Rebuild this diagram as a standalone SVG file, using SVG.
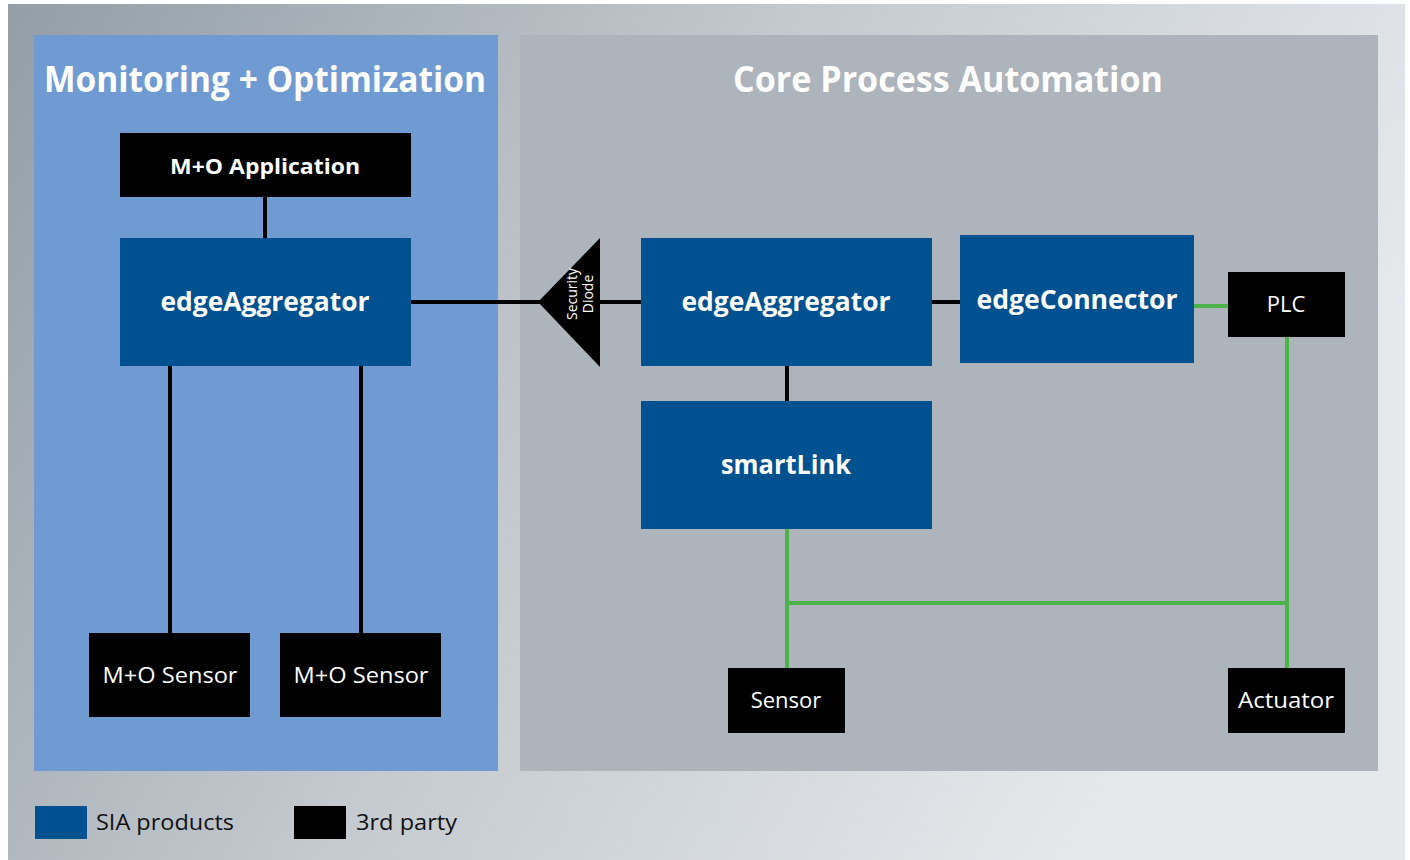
<svg xmlns="http://www.w3.org/2000/svg" width="1410" height="860" viewBox="0 0 1410 860">
<defs>
<linearGradient id="bg" x1="0" y1="0" x2="1" y2="0.35">
<stop offset="0" stop-color="#939ea7"/>
<stop offset="0.5" stop-color="#c3c9ce"/>
<stop offset="1" stop-color="#e6e9ec"/>
</linearGradient>
<style>
.sia{fill:#00518f}
.tp{fill:#000}
.bt{font-family:"Open Sans","Liberation Sans",sans-serif;font-weight:bold;fill:#fff;text-anchor:middle}
.rt{font-family:"Open Sans","Liberation Sans",sans-serif;fill:#fff;text-anchor:middle}
.lt{font-family:"Open Sans","Liberation Sans",sans-serif;fill:#111;font-size:22px}
.blk{stroke:#000;stroke-width:4;fill:none}
.grn{stroke:#4cb34a;stroke-width:4;fill:none}
</style>
</defs>
<rect x="0" y="0" width="1410" height="860" fill="#fff"/>
<rect x="8" y="4" width="1397" height="856" fill="url(#bg)"/>
<g id="panel-mo">
<rect x="34" y="35" width="464" height="736" fill="#709bd2"/>
<text class="bt" x="265" y="92" font-size="35" textLength="442" lengthAdjust="spacingAndGlyphs">Monitoring + Optimization</text>
</g>
<g id="panel-cpa">
<rect x="520" y="35" width="858" height="736" fill="#adb4bb"/>
<text class="bt" x="948" y="92" font-size="35" textLength="430" lengthAdjust="spacingAndGlyphs">Core Process Automation</text>
</g>
<g id="connectors">
<line class="blk" x1="265" y1="197" x2="265" y2="238"/>
<line class="blk" x1="170" y1="366" x2="170" y2="633"/>
<line class="blk" x1="361" y1="366" x2="361" y2="633"/>
<line class="blk" x1="411" y1="302" x2="540" y2="302"/>
<line class="blk" x1="600" y1="302" x2="641" y2="302"/>
<line class="blk" x1="932" y1="302" x2="960" y2="302"/>
<line class="blk" x1="787" y1="366" x2="787" y2="401"/>
<line class="grn" x1="1194" y1="306" x2="1228" y2="306"/>
<line class="grn" x1="1287" y1="336" x2="1287" y2="668"/>
<line class="grn" x1="787" y1="529" x2="787" y2="668"/>
<line class="grn" x1="787" y1="603" x2="1287" y2="603"/>
</g>
<g id="mo-app">
<rect class="tp" x="120" y="133" width="291" height="64"/>
<text class="bt" x="265" y="174" font-size="22" textLength="190" lengthAdjust="spacingAndGlyphs">M+O Application</text>
</g>
<g id="edge-agg-left">
<rect class="sia" x="120" y="238" width="291" height="128"/>
<text class="bt" x="265" y="311" font-size="27" textLength="209" lengthAdjust="spacingAndGlyphs">edgeAggregator</text>
</g>
<g id="mo-sensor-1">
<rect class="tp" x="89" y="633" width="161" height="84"/>
<text class="rt" x="170" y="683" font-size="22" textLength="135" lengthAdjust="spacingAndGlyphs">M+O Sensor</text>
</g>
<g id="mo-sensor-2">
<rect class="tp" x="280" y="633" width="161" height="84"/>
<text class="rt" x="361" y="683" font-size="22" textLength="135" lengthAdjust="spacingAndGlyphs">M+O Sensor</text>
</g>
<g id="security-diode">
<polygon class="tp" points="538,302 600,238 600,367"/>
<text class="rt" font-size="14" transform="translate(577,294) rotate(-90)"><tspan x="0" y="0">Security</tspan><tspan x="0" y="16">Diode</tspan></text>
</g>
<g id="edge-agg-right">
<rect class="sia" x="641" y="238" width="291" height="128"/>
<text class="bt" x="786" y="311" font-size="27" textLength="209" lengthAdjust="spacingAndGlyphs">edgeAggregator</text>
</g>
<g id="edge-connector">
<rect class="sia" x="960" y="235" width="234" height="128"/>
<text class="bt" x="1077" y="309" font-size="27" textLength="201" lengthAdjust="spacingAndGlyphs">edgeConnector</text>
</g>
<g id="plc">
<rect class="tp" x="1228" y="272" width="117" height="65"/>
<text class="rt" x="1286" y="312" font-size="22">PLC</text>
</g>
<g id="smartlink">
<rect class="sia" x="641" y="401" width="291" height="128"/>
<text class="bt" x="786" y="474" font-size="27" textLength="130" lengthAdjust="spacingAndGlyphs">smartLink</text>
</g>
<g id="sensor">
<rect class="tp" x="728" y="668" width="117" height="65"/>
<text class="rt" x="786" y="708" font-size="22">Sensor</text>
</g>
<g id="actuator">
<rect class="tp" x="1228" y="668" width="117" height="65"/>
<text class="rt" x="1286" y="708" font-size="22" textLength="96" lengthAdjust="spacingAndGlyphs">Actuator</text>
</g>
<g id="legend">
<rect class="sia" x="35" y="806" width="52" height="33"/>
<text class="lt" x="96" y="830" textLength="138" lengthAdjust="spacingAndGlyphs">SIA products</text>
<rect class="tp" x="294" y="806" width="52" height="33"/>
<text class="lt" x="356" y="830" textLength="101" lengthAdjust="spacingAndGlyphs">3rd party</text>
</g>
</svg>
